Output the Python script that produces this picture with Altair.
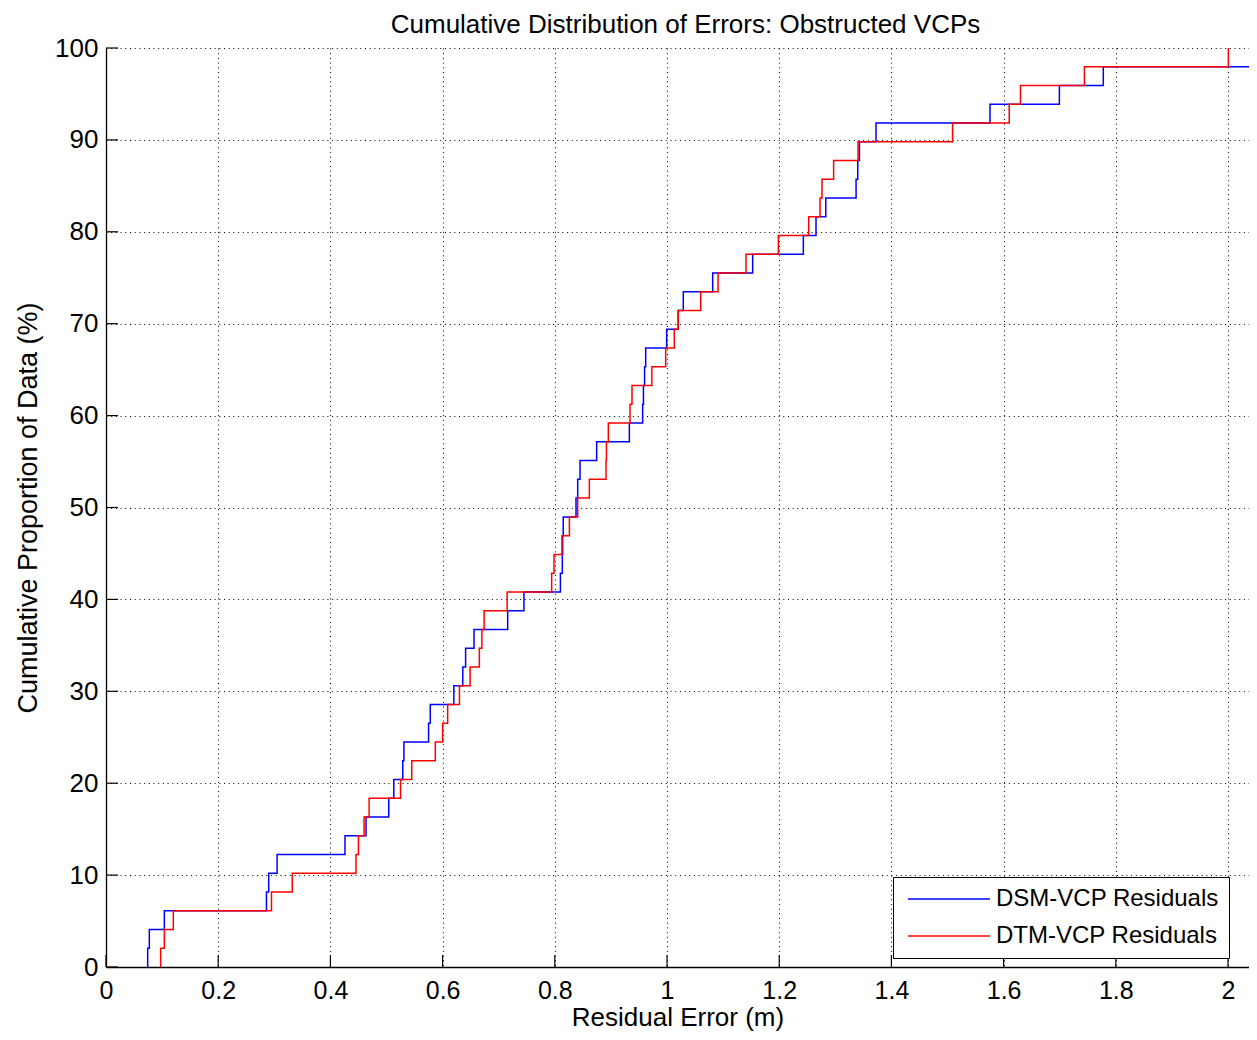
import altair as alt
import pandas as pd

# ---- data (sorted residuals, n = 49 per series) ----
dsm_x = [0.0743, 0.0772, 0.104, 0.286, 0.290, 0.305, 0.426, 0.4635, 0.504, 0.513,
         0.529, 0.531, 0.575, 0.578, 0.620, 0.636, 0.641, 0.656, 0.716, 0.745,
         0.810, 0.8134, 0.814, 0.815, 0.8378, 0.8408, 0.845, 0.8746, 0.9329, 0.9566,
         0.958, 0.960, 0.962, 0.9994, 1.020, 1.029, 1.0814, 1.1527, 1.243, 1.2656,
         1.283, 1.337, 1.340, 1.343, 1.3725, 1.5757, 1.6994, 1.7777, 2.25]
dtm_x = [0.0974, 0.104, 0.120, 0.295, 0.332, 0.4456, 0.450, 0.460, 0.469, 0.525,
         0.545, 0.587, 0.600, 0.609, 0.630, 0.649, 0.6655, 0.670, 0.674, 0.715,
         0.7944, 0.7986, 0.8128, 0.826, 0.8408, 0.8616, 0.8913, 0.8920, 0.8954, 0.934,
         0.9376, 0.973, 0.9977, 1.013, 1.020, 1.060, 1.091, 1.1408, 1.1985, 1.2525,
         1.2727, 1.2763, 1.2970, 1.3405, 1.509, 1.610, 1.630, 1.744, 2.0006]

series_names = ["DSM-VCP Residuals", "DTM-VCP Residuals"]
series_colors = ["#0000ff", "#ff0000"]

x_tick_values = [0, 0.2, 0.4, 0.6, 0.8, 1, 1.2, 1.4, 1.6, 1.8, 2]
y_tick_values = [0, 10, 20, 30, 40, 50, 60, 70, 80, 90, 100]
x_domain = [0, 2.0374]
y_domain = [0, 100]

title_text = "Cumulative Distribution of Errors: Obstructed VCPs"
x_title = "Residual Error (m)"
y_title = "Cumulative Proportion of Data (%)"

FONT = "Liberation Sans"
W, H = 1143, 919


def ecdf_rows(xs, name):
    n = len(xs)
    rows = [{"x": xs[0], "y": 0.0, "order": 0, "series": name}]
    for k, v in enumerate(xs, start=1):
        rows.append({"x": v, "y": 100.0 * k / n, "order": k, "series": name})
    return rows


dsm_df = pd.DataFrame(ecdf_rows(dsm_x, series_names[0]))
dtm_df = pd.DataFrame(ecdf_rows(dtm_x, series_names[1]))

xscale = alt.Scale(domain=x_domain, nice=False, zero=False)
yscale = alt.Scale(domain=y_domain, nice=False)
cscale = alt.Scale(domain=series_names, range=series_colors)

x_axis = alt.Axis(values=x_tick_values, format="~g", title=x_title, ticks=False,
                  labelPadding=11, titlePadding=1, labelFlush=False,
                  labelFontSize=25, titleFontSize=26)
y_axis = alt.Axis(values=y_tick_values, title=y_title, ticks=False,
                  labelPadding=8, titlePadding=12, labelFlush=False)

# legend symbol: a horizontal stroke drawn as a custom path (scaled by sqrt(size)/2)
legend = alt.Legend(title=None, orient="none", legendX=787, legendY=829,
                    symbolType="M-5,0H5", symbolSize=269, symbolStrokeWidth=1.5,
                    symbolFillColor="transparent",
                    labelFontSize=24, labelFont=FONT, labelOffset=35, labelLimit=500,
                    padding=10, symbolOffset=34, rowPadding=13,
                    strokeColor="black", fillColor="white", cornerRadius=0)


def line_layer(df):
    return alt.Chart(df).mark_line(interpolate="step-after", strokeWidth=1.5, clip=True).encode(
        x=alt.X("x:Q", scale=xscale, axis=x_axis),
        y=alt.Y("y:Q", scale=yscale, axis=y_axis),
        order="order:Q",
        color=alt.Color("series:N", scale=cscale, legend=legend),
    )


xt_df = pd.DataFrame({"v": x_tick_values})
yt_df = pd.DataFrame({"v": y_tick_values})

x_ticks = alt.Chart(xt_df).mark_rule(color="black", strokeWidth=1.2).encode(
    x=alt.X("v:Q", scale=xscale, axis=x_axis),
    y=alt.value(H),
    y2=alt.value(H - 12),
)
y_ticks = alt.Chart(yt_df).mark_rule(color="black", strokeWidth=1.2).encode(
    y=alt.Y("v:Q", scale=yscale, axis=y_axis),
    x=alt.value(0),
    x2=alt.value(12),
)

chart = alt.layer(
    line_layer(dsm_df),
    line_layer(dtm_df),
    x_ticks,
    y_ticks,
).properties(
    width=W,
    height=H,
    title=alt.TitleParams(title_text, fontSize=26, font=FONT, fontWeight="normal",
                          color="black", frame="group", offset=-3, dx=8,
                          anchor="middle"),
    autosize=alt.AutoSizeParams(type="none"),
    padding={"left": 98, "top": 40, "right": 0, "bottom": 65},
).configure_view(
    stroke="transparent"
).configure_axis(
    labelFont=FONT, titleFont=FONT, labelFontSize=26, titleFontSize=27,
    titleFontWeight="normal", labelColor="black", titleColor="black",
    domainColor="black", domainWidth=1.3,
    grid=True, gridColor="#000000", gridDash=[1, 3.7], gridOpacity=1, gridWidth=1,
)

chart.save("out.html", embed_options={"renderer": "svg", "actions": False})
